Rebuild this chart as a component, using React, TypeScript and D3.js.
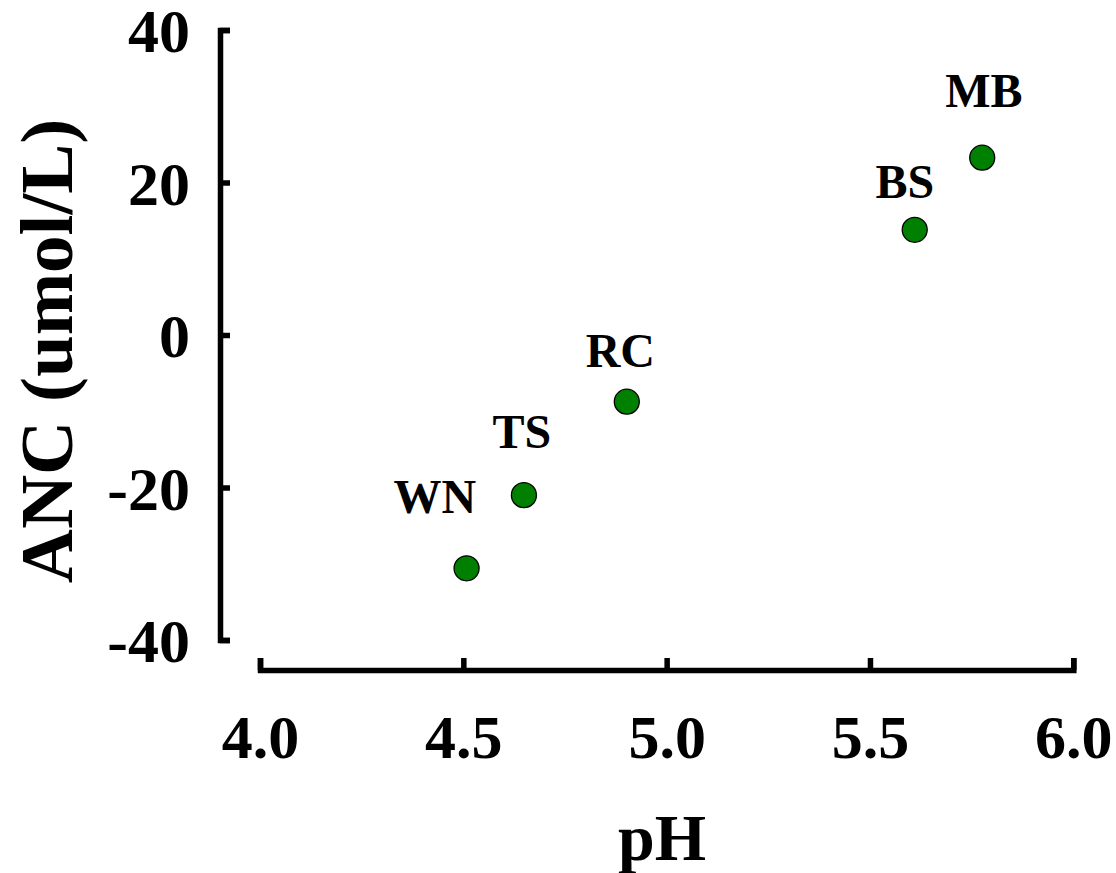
import React, { useEffect, useRef } from "react";
import * as d3 from "d3";

const sites = ["WN", "TS", "RC", "BS", "MB"];
const phValues = [4.508, 4.649, 4.902, 5.61, 5.776];
const ancValues = [-30.6, -21.0, -8.75, 13.8, 23.25];
const labelPh = [4.43, 4.644, 4.886, 5.586, 5.78];
const labelAnc = [-23.3, -14.8, -4.15, 17.95, 29.9];
const xTicks = [4.0, 4.5, 5.0, 5.5, 6.0];
const yTicks = [-40, -20, 0, 20, 40];

const W = 1116;
const H = 873;
const FONT = "'Liberation Serif', 'Times New Roman', serif";

export default function App() {
  const xAxisRef = useRef<SVGGElement>(null);
  const yAxisRef = useRef<SVGGElement>(null);

  const x = d3.scaleLinear().domain([4, 6]).range([260, 1073.3]);
  const y = d3.scaleLinear().domain([-40, 40]).range([640, 30]);
  const xAxisY = 670;
  const yAxisX = 220;

  useEffect(() => {
    if (xAxisRef.current) {
      const g = d3.select(xAxisRef.current);
      g.selectAll("*").remove();
      g.call(
        d3
          .axisBottom(x)
          .tickValues(xTicks)
          .tickFormat((d: any) => Number(d).toFixed(1))
          .tickSize(-12)
          .tickSizeOuter(-12)
          .tickPadding(0)
      );
      g.selectAll("path, line").attr("stroke", "#000").attr("stroke-width", 5.5);
      g.select(".domain").attr("stroke-linejoin", "miter").attr("fill", "none");
      g.selectAll("text")
        .attr("y", 88)
        .attr("dy", 0)
        .attr("fill", "#000")
        .style("font-family", FONT)
        .style("font-weight", "bold")
        .style("font-size", "62px");
      g.attr("font-size", null).attr("font-family", null);
    }
    if (yAxisRef.current) {
      const g = d3.select(yAxisRef.current);
      g.selectAll("*").remove();
      g.call(
        d3
          .axisLeft(y)
          .tickValues(yTicks)
          .tickFormat((d: any) => String(Math.round(Number(d))))
          .tickSize(-10)
          .tickSizeOuter(-10)
          .tickPadding(30)
      );
      g.selectAll("path, line").attr("stroke", "#000").attr("stroke-width", 5.5);
      g.select(".domain").attr("stroke-linejoin", "miter").attr("fill", "none");
      g.selectAll("text")
        .attr("x", -30)
        .attr("dy", "0.35em")
        .attr("fill", "#000")
        .style("font-family", FONT)
        .style("font-weight", "bold")
        .style("font-size", "62px");
      g.attr("font-size", null).attr("font-family", null);
    }
  }, []);

  return (
    <svg
      width={W}
      height={H}
      style={{ position: "absolute", left: 0, top: 0, background: "#fff" }}
    >
      <rect x={0} y={0} width={W} height={H} fill="#fff" />
      <g ref={xAxisRef} transform={`translate(0,${xAxisY})`} />
      <g ref={yAxisRef} transform={`translate(${yAxisX},0)`} />
      {sites.map((s, i) => (
        <circle
          key={"p" + s}
          cx={x(phValues[i])}
          cy={y(ancValues[i])}
          r={12.5}
          fill="#008000"
          stroke="#000"
          strokeWidth={1.3}
        />
      ))}
      {sites.map((s, i) => (
        <text
          key={"l" + s}
          x={x(labelPh[i])}
          y={y(labelAnc[i])}
          textAnchor="middle"
          fontFamily={FONT}
          fontWeight="bold"
          fontSize={48}
          fill="#000"
        >
          {s}
        </text>
      ))}
      <text
        transform={`translate(72,351) rotate(-90)`}
        textAnchor="middle"
        fontFamily={FONT}
        fontWeight="bold"
        fontSize={75}
        fill="#000"
      >
        ANC (umol/L)
      </text>
      <text
        x={662}
        y={860}
        textAnchor="middle"
        fontFamily={FONT}
        fontWeight="bold"
        fontSize={66}
        fill="#000"
      >
        pH
      </text>
    </svg>
  );
}
